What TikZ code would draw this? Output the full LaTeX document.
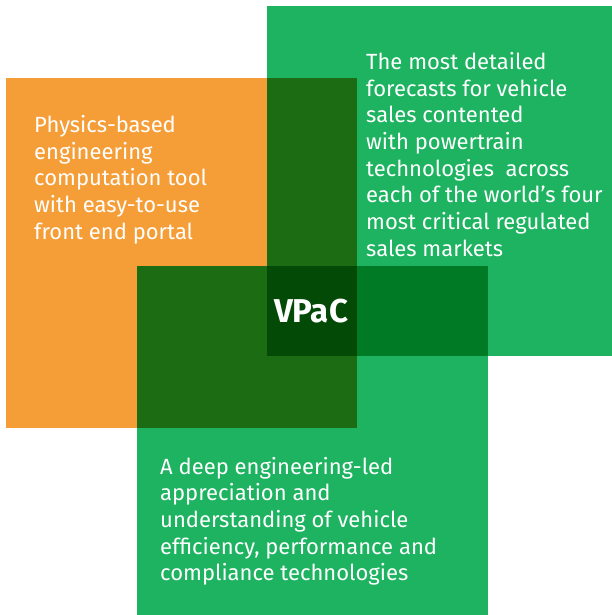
\documentclass[tikz,border=0pt]{standalone}
\usepackage{fontspec}
\setmainfont{Fira Sans}
\definecolor{orng}{RGB}{245,158,56}
\definecolor{grn}{RGB}{29,179,96}
\definecolor{dkA}{RGB}{28,108,20}
\definecolor{dkB}{RGB}{0,122,36}
\definecolor{dkC}{RGB}{4,74,7}
\tikzset{
  body/.style={text=white, anchor=base west, inner sep=0pt, align=left,
    font=\fontsize{22}{26.7}\selectfont},
  title/.style={text=white, anchor=base, inner sep=0pt,
    font=\fontsize{33}{36}\selectfont\bfseries}
}
\begin{document}
\begin{tikzpicture}[x=1pt,y=-1pt]
\useasboundingbox (0,0) rectangle (612,615);
% base rectangles
\fill[orng] (6,78) rectangle (357,428);
\fill[grn] (267,6) rectangle (612,356);
\fill[grn] (137,266) rectangle (488,615);
% overlaps
\fill[dkA] (267,78) rectangle (357,356);
\fill[dkA] (137,266) rectangle (357,428);
\fill[dkB] (267,266) rectangle (488,356);
\fill[dkC] (267,266) rectangle (357,356);
% texts (anchor = baseline of the last line)
\node[body] (orangetext) at (34,239.1) {Physics-based\\engineering\\computation tool\\with easy-to-use\\front end portal};
\node[body] (toptext) at (366,256.2) {The most detailed\\forecasts for vehicle\\sales contented\\with powertrain\\technologies~ across\\each of the world’s four\\most critical regulated\\sales markets};
\node[body] (bottomtext) at (160,580.8) {A deep engineering-led\\appreciation and\\understanding of vehicle\\efficiency, performance and\\compliance technologies};
\node[title] (vpac) at (311,322.3) {VPaC};
\end{tikzpicture}
\end{document}
